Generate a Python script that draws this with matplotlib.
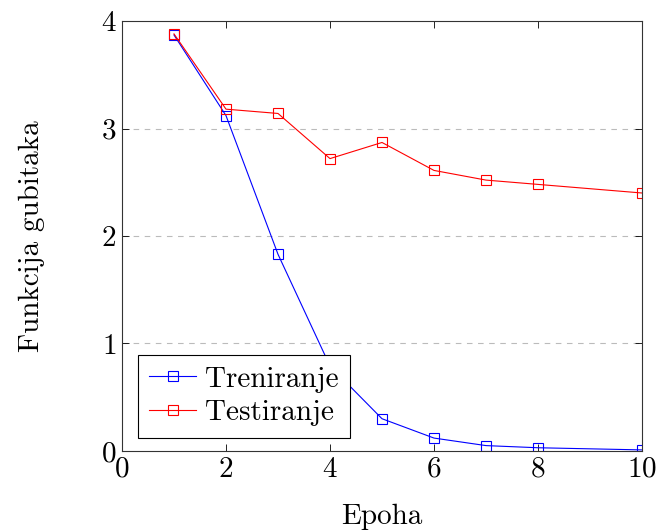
import numpy as np
import matplotlib
matplotlib.use("Agg")
import matplotlib.pyplot as plt

plt.rcParams['font.family'] = 'serif'
plt.rcParams['font.serif'] = ['cmr10']
plt.rcParams['mathtext.fontset'] = 'cm'
plt.rcParams['axes.formatter.use_mathtext'] = True

epohe = [1, 2, 3, 4, 5, 6, 7, 8, 10]
treniranje = [3.87, 3.12, 1.83, 0.79, 0.30, 0.12, 0.05, 0.03, 0.01]
testiranje = [3.88, 3.18, 3.14, 2.72, 2.87, 2.61, 2.52, 2.48, 2.40]

x_ticks = [0, 2, 4, 6, 8, 10]
y_ticks = [0, 1, 2, 3, 4]

fig = plt.figure(figsize=(6.58, 5.32), dpi=100)
ax = fig.add_axes([0.1854, 0.1523, 0.7903, 0.8082])

ax.plot(epohe, treniranje, color="blue", marker="s", markerfacecolor="none",
        markeredgecolor="blue", markersize=7, linewidth=0.8,
        markeredgewidth=0.8, label="Treniranje")
ax.plot(epohe, testiranje, color="red", marker="s", markerfacecolor="none",
        markeredgecolor="red", markersize=7, linewidth=0.8,
        markeredgewidth=0.8, label="Testiranje")

ax.set_xlim(0, 10)
ax.set_ylim(0, 4)
ax.set_xticks(x_ticks)
ax.set_yticks(y_ticks)
ax.tick_params(direction="in", top=True, right=True, labelsize=21, length=5,
               width=0.6, pad=4)
for s in ax.spines.values():
    s.set_linewidth(0.8)
    s.set_color("#333333")

for y in [1, 2, 3]:
    ax.axhline(y, color="#bbbbbb", linestyle=(0, (5, 5)), linewidth=0.8, zorder=0)

ax.set_xlabel("Epoha", fontsize=21, labelpad=15)
ax.set_ylabel("Funkcija gubitaka", fontsize=21, labelpad=40)

leg = ax.legend(loc="lower left", bbox_to_anchor=(0.03, 0.03), fontsize=21,
                fancybox=False, edgecolor="black", framealpha=1,
                borderaxespad=0, handlelength=1.6, handletextpad=0.3,
                borderpad=0.4, labelspacing=0.25)
leg.get_frame().set_linewidth(0.8)

fig.savefig("out.png", dpi=100)
